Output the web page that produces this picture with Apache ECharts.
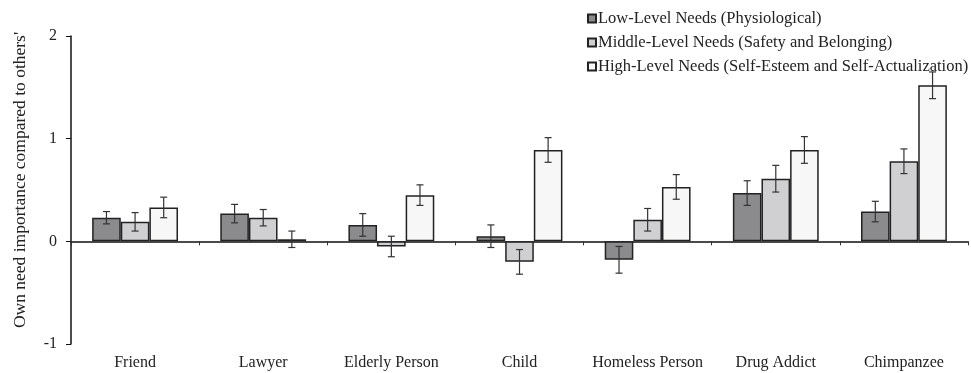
<!DOCTYPE html>
<html>
<head>
<meta charset="utf-8">
<script src="https://cdn.jsdelivr.net/npm/echarts@6/dist/echarts.min.js"></script>
<style>
  html, body { margin: 0; padding: 0; background: #fff; }
  #chart { width: 971px; height: 373px; }
</style>
</head>
<body>
<div id="chart"></div>
<script>
// Targets of comparison
var categories = ['Friend', 'Lawyer', 'Elderly Person', 'Child', 'Homeless Person', 'Drug Addict', 'Chimpanzee'];

// Series names
var seriesNames = [
  'Low-Level Needs (Physiological)',
  'Middle-Level Needs (Safety and Belonging)',
  'High-Level Needs (Self-Esteem and Self-Actualization)'
];

// Mean differences (own minus others')
var lowMeans    = [0.23, 0.27, 0.16, 0.05, -0.18, 0.47, 0.29];
var middleMeans = [0.19, 0.23, -0.05, -0.20, 0.21, 0.61, 0.78];
var highMeans   = [0.33, 0.02, 0.45, 0.89, 0.53, 0.89, 1.52];

// Standard errors
var lowErr    = [0.06, 0.09, 0.11, 0.11, 0.13, 0.12, 0.10];
var middleErr = [0.09, 0.08, 0.10, 0.12, 0.11, 0.13, 0.12];
var highErr   = [0.10, 0.08, 0.10, 0.12, 0.12, 0.13, 0.13];

var yTicks = { min: -1, max: 2, interval: 1 };

var fillColors = ['#8b8b8d', '#d0d0d2', '#f7f7f7'];
var fontFamily = '"Liberation Serif", "Times New Roman", serif';

var chart = echarts.init(document.getElementById('chart'), null, { renderer: 'canvas' });

var means = [lowMeans, middleMeans, highMeans];
var errs = [lowErr, middleErr, highErr];
var CATEGORY_GAP = 0.33;

function barSeries(i) {
  return {
    name: seriesNames[i],
    type: 'bar',
    xAxisIndex: 0,
    yAxisIndex: 0,
    barGap: '0%',
    barCategoryGap: (CATEGORY_GAP * 100) + '%',
    data: means[i],
    itemStyle: {
      color: fillColors[i],
      borderColor: '#222',
      borderWidth: 1.5
    },
    emphasis: { disabled: true },
    z: 2
  };
}

function errorSeries(i) {
  var pts = categories.map(function (c, k) {
    return [k, means[i][k] - errs[i][k], means[i][k] + errs[i][k]];
  });
  return {
    type: 'custom',
    xAxisIndex: 0,
    yAxisIndex: 0,
    silent: true,
    z: 5,
    data: pts,
    encode: { x: 0, y: [1, 2] },
    renderItem: function (params, api) {
      var band = api.size([1, 0])[0];
      var barW = band * (1 - CATEGORY_GAP) / 3;
      var cx = api.coord([api.value(0), 0])[0] + (i - 1) * barW;
      var lo = api.coord([api.value(0), api.value(1)])[1];
      var hi = api.coord([api.value(0), api.value(2)])[1];
      var cap = 3.5;
      var style = { stroke: '#333', lineWidth: 1.2 };
      return {
        type: 'group',
        children: [
          { type: 'line', shape: { x1: cx, y1: lo, x2: cx, y2: hi }, style: style },
          { type: 'line', shape: { x1: cx - cap, y1: hi, x2: cx + cap, y2: hi }, style: style },
          { type: 'line', shape: { x1: cx - cap, y1: lo, x2: cx + cap, y2: lo }, style: style }
        ]
      };
    }
  };
}

var series = [];
for (var i = 0; i < 3; i++) series.push(barSeries(i));
for (var j = 0; j < 3; j++) series.push(errorSeries(j));

chart.setOption({
  animation: false,
  backgroundColor: '#fff',
  textStyle: { fontFamily: fontFamily, color: '#222' },
  grid: { left: 71, right: 3, top: 36, bottom: 29, containLabel: false },
  legend: {
    orient: 'vertical',
    left: 587,
    top: 10,
    padding: 0,
    itemWidth: 8,
    itemHeight: 8,
    itemGap: 7,
    icon: 'rect',
    selectedMode: false,
    data: seriesNames,
    textStyle: { fontFamily: fontFamily, fontSize: 16.5, color: '#222', padding: [0, 0, 0, -3] }
  },
  xAxis: [
    {
      type: 'category',
      data: categories,
      position: 'bottom',
      axisLine: { onZero: true, lineStyle: { color: '#111', width: 1.5 } },
      axisTick: { show: true, length: 4, inside: false, lineStyle: { color: '#333' } },
      axisLabel: { show: false },
      splitLine: { show: false }
    },
    {
      type: 'category',
      data: categories,
      position: 'bottom',
      axisLine: { show: false },
      axisTick: { show: false },
      axisLabel: { show: true, interval: 0, margin: 11, fontSize: 16, color: '#222', fontFamily: fontFamily },
      splitLine: { show: false }
    }
  ],
  yAxis: {
    type: 'value',
    min: yTicks.min,
    max: yTicks.max,
    interval: yTicks.interval,
    name: "Own need importance compared to others'",
    nameLocation: 'middle',
    nameGap: 42,
    nameTextStyle: { fontFamily: fontFamily, fontSize: 17.5, color: '#222', padding: [0, 0, 0, 20] },
    axisLine: { show: true, lineStyle: { color: '#111', width: 1.5 } },
    axisTick: { show: true, length: 5, lineStyle: { color: '#111' } },
    axisLabel: { margin: 14, fontSize: 16, color: '#222', fontFamily: fontFamily },
    splitLine: { show: false }
  },
  series: series
});
</script>
</body>
</html>
